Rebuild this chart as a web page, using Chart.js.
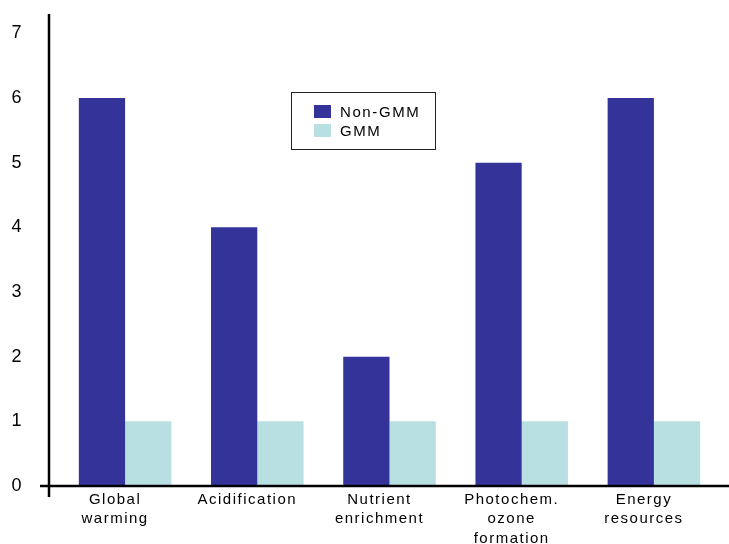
<!DOCTYPE html>
<html>
<head>
<meta charset="utf-8">
<script src="https://cdn.jsdelivr.net/npm/chart.js@4"></script>
<style>
  html, body { margin: 0; padding: 0; background: #fff; }
  #wrap { position: relative; width: 729px; height: 544px; }
  #legend {
    position: absolute; left: 291px; top: 92px; width: 143px; height: 56px;
    border: 1px solid #222; box-sizing: content-box;
    font-family: "Liberation Sans", Arial, sans-serif; font-size: 15px; letter-spacing: 1.6px; color: #000;
  }
  .item { position: absolute; left: 22px; height: 18px; line-height: 18px; }
  .sw { display: inline-block; width: 17px; height: 13px; vertical-align: -1px; margin-right: 9px; }
</style>
</head>
<body>
<div id="wrap">
  <canvas id="c" width="729" height="544"></canvas>
  <div id="legend"></div>
</div>
<script>
const categories = [["Global", "warming"], "Acidification", ["Nutrient", "enrichment"], ["Photochem.", "ozone", "formation"], ["Energy", "resources"]];
const seriesNames = ["Non-GMM", "GMM"];
const nonGMM = [6, 4, 2, 5, 6];
const gmm = [1, 1, 1, 1, 1];
const yTicks = [0, 1, 2, 3, 4, 5, 6, 7];
const colors = ["#333399", "#b8e0e3"];

const axisLines = {
  id: 'axisLines',
  afterDraw(chart) {
    const { ctx, chartArea } = chart;
    const y0 = chart.scales.y.getPixelForValue(0);
    ctx.save();
    ctx.strokeStyle = '#000';
    ctx.lineWidth = 2.5;
    ctx.beginPath();
    ctx.moveTo(chartArea.left - 10, chartArea.top);
    ctx.lineTo(chartArea.left - 10, y0 + 11);
    ctx.stroke();
    ctx.beginPath();
    ctx.moveTo(chartArea.left - 19, y0);
    ctx.lineTo(chart.width, y0);
    ctx.stroke();
    ctx.restore();
  }
};

const spacing = {
  id: 'spacing',
  beforeLayout(chart) { chart.ctx.letterSpacing = '1.5px'; },
  beforeDraw(chart) { chart.ctx.letterSpacing = '1.5px'; }
};

const chart = new Chart(document.getElementById('c'), {
  type: 'bar',
  data: {
    labels: categories,
    datasets: [
      { label: seriesNames[0], data: nonGMM, backgroundColor: colors[0] },
      { label: seriesNames[1], data: gmm, backgroundColor: colors[1] }
    ]
  },
  options: {
    responsive: false,
    animation: false,
    layout: { padding: { top: 14, right: 9, left: 0, bottom: 0 } },
    datasets: { bar: { categoryPercentage: 0.7, barPercentage: 1.0 } },
    plugins: { legend: { display: false }, tooltip: { enabled: false } },
    scales: {
      x: {
        grid: { display: false, drawTicks: false },
        border: { display: false },
        afterFit(s) { s.height = 58; s.paddingLeft = 0; s.paddingRight = 0; },
        ticks: {
          color: '#000', padding: 4, maxRotation: 0, autoSkip: false, labelOffset: -10,
          font: { family: '"Liberation Sans", Arial, sans-serif', size: 15, lineHeight: 1.3 }
        }
      },
      y: {
        min: 0, max: 7.3,
        grid: { display: false, drawTicks: false },
        border: { display: false },
        afterFit(s) { s.width = 59; s.paddingTop = 0; s.paddingBottom = 0; },
        afterBuildTicks(s) { s.ticks = yTicks.map(v => ({ value: v })); },
        ticks: {
          color: '#000', padding: 36,
          font: { family: '"Liberation Sans", Arial, sans-serif', size: 18 },
          callback: v => String(v)
        }
      }
    }
  },
  plugins: [spacing, axisLines]
});

const legend = document.getElementById('legend');
chart.data.datasets.forEach((ds, i) => {
  const d = document.createElement('div');
  d.className = 'item';
  d.style.top = (10 + i * 19) + 'px';
  d.innerHTML = '<span class="sw" style="background:' + ds.backgroundColor + '"></span>' + ds.label;
  legend.appendChild(d);
});
</script>
</body>
</html>
